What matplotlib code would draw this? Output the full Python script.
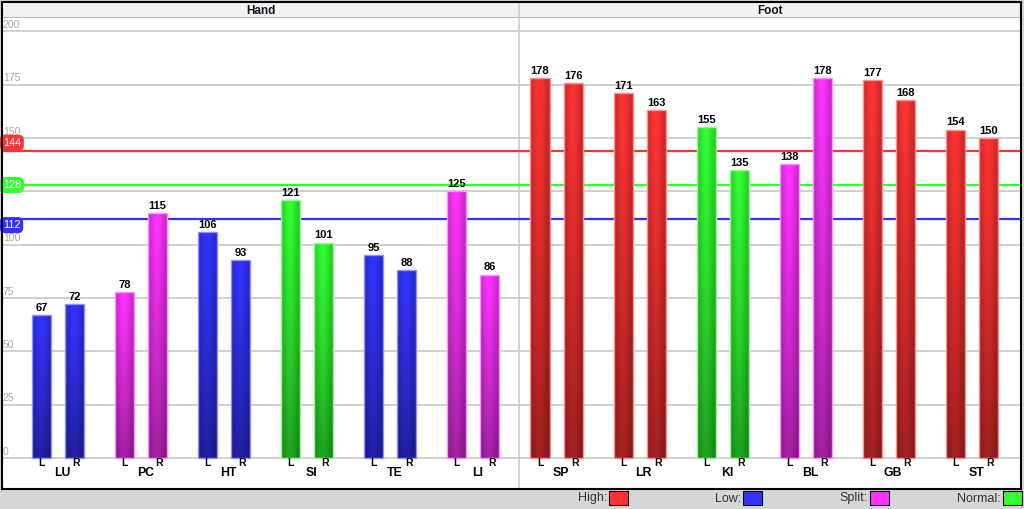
import numpy as np
import matplotlib
matplotlib.use("Agg")
import matplotlib.pyplot as plt
from matplotlib.patches import Rectangle
from matplotlib.colors import to_rgb

plt.rcParams['font.family'] = ['Liberation Sans', 'DejaVu Sans']

# data
meridians = ['LU', 'PC', 'HT', 'SI', 'TE', 'LI', 'SP', 'LR', 'KI', 'BL', 'GB', 'ST']
left_vals = [67, 78, 106, 121, 95, 125, 178, 171, 155, 138, 177, 154]
right_vals = [72, 115, 93, 101, 88, 86, 176, 163, 135, 178, 168, 150]
left_status = ['Low', 'Split', 'Low', 'Normal', 'Low', 'Split',
               'High', 'High', 'Normal', 'Split', 'High', 'High']
right_status = ['Low', 'Split', 'Low', 'Normal', 'Low', 'Split',
                'High', 'High', 'Normal', 'Split', 'High', 'High']
sections = ['Hand', 'Foot']
thresholds = [144, 128, 112]
threshold_status = ['High', 'Normal', 'Low']
legend_order = ['High', 'Low', 'Split', 'Normal']

colors = {'High': '#ff3333', 'Low': '#3333ff', 'Split': '#ff33ff', 'Normal': '#33ff33'}

W, H = 1024, 509
fig = plt.figure(figsize=(W / 100, H / 100), dpi=100)
fig.patch.set_facecolor('#d6d6d6')

def fx(px):
    return px / W

def fy(py):
    return 1 - py / H

# main plot area (pixels: x 2..1021, y 18..489)
ax = fig.add_axes([fx(2), fy(489), fx(1021) - fx(2), fy(18) - fy(489)])
ax.set_facecolor('white')
for s in ax.spines.values():
    s.set_visible(False)
ax.set_xticks([])
ax.set_yticks([])

xmin, xmax = -0.674, 11.59
ymin, ymax = -14.54, 206.3

# grid + y labels
for t in np.arange(0, 201, 25):
    ax.axhline(t, color='#c8c8c8', lw=1.2, zorder=1)
    ax.text(xmin + 0.01, t + 0.6, str(t), color='#a8a8a8', fontsize=7.5,
            ha='left', va='bottom', zorder=2)

# threshold lines
label_dy = [3.8, 0.0, -2.8]
for val, st, dy in zip(thresholds, threshold_status, label_dy):
    ax.axhline(val, color=colors[st], lw=1.6, zorder=3)
    ax.text(xmin + 0.008, val + dy, str(val), color='white', fontsize=7.8,
            ha='left', va='center', zorder=6,
            bbox=dict(boxstyle='round,pad=0.28,rounding_size=0.5',
                      fc=colors[st], ec='none'))

# divider between Hand and Foot
split_x = 5.55
ax.axvline(split_x, color='#cccccc', lw=1.2, zorder=1)

x = np.arange(len(meridians))
off = 0.199
bw = 0.229


def shade_bar(patch, base):
    rgb = np.array(to_rgb(base))
    cols = np.linspace(0, 1, 24)
    rows = np.linspace(0, 1, 80)
    h = 0.8 + 0.2 * np.cos((cols - 0.45) * np.pi * 0.95) ** 2
    v = 1.0 - 0.36 * rows ** 1.2
    img = rgb[None, None, :] * v[:, None, None] * h[None, :, None]
    x0, y0 = patch.get_x(), patch.get_y()
    im = ax.imshow(np.clip(img, 0, 1),
                   extent=[x0, x0 + patch.get_width(), y0, y0 + patch.get_height()],
                   aspect='auto', origin='upper', zorder=4, interpolation='bilinear')
    im.set_clip_path(patch)


for vals, stat, sgn, side in [(left_vals, left_status, -1, 'L'), (right_vals, right_status, 1, 'R')]:
    bars = ax.bar(x + sgn * off, vals, width=bw,
                  color=[colors[s] for s in stat], zorder=4, lw=0)
    for b, s, v in zip(bars, stat, vals):
        shade_bar(b, colors[s])
        edge = Rectangle((b.get_x(), 0), b.get_width(), v, fill=False,
                         ec=tuple(0.55 * np.array(to_rgb(colors[s])) + 0.45), lw=1.0, zorder=5)
        ax.add_patch(edge)
        ax.annotate(str(v), (b.get_x() + b.get_width() / 2, v), xytext=(0, 1.5),
                    textcoords='offset points', ha='center', va='bottom',
                    fontsize=8, fontweight='bold', color='black', zorder=6)
        ax.text(b.get_x() + b.get_width() / 2 + (0.02 if side == 'R' else 0), -2.4, side,
                ha='center', va='center', fontsize=7.5, fontweight='bold', zorder=6)

for xi, name in zip(x, meridians):
    ax.text(xi + 0.05, -7.1, name, ha='center', va='center', fontsize=8.8,
            fontweight='bold', zorder=6)

ax.set_xlim(xmin, xmax)
ax.set_ylim(ymin, ymax)

# header strip (pixels y 2..18)
hx = fig.add_axes([fx(2), fy(18), fx(1021) - fx(2), fy(2) - fy(18)])
hx.set_facecolor('#f1f1f1')
hx.set_xlim(xmin, xmax)
hx.set_ylim(0, 1)
hx.set_xticks([])
hx.set_yticks([])
for s in hx.spines.values():
    s.set_visible(False)
hx.axhline(0, color='#b8b8b8', lw=1.5)
hx.axvline(split_x, color='#cccccc', lw=1.2)
hx.text((xmin + split_x) / 2, 0.45, sections[0], ha='center', va='center',
        fontsize=8.5, fontweight='bold', color='#111122')
hx.text((split_x + xmax) / 2, 0.45, sections[1], ha='center', va='center',
        fontsize=8.5, fontweight='bold', color='#111122')

# outer border
fig.add_artist(Rectangle((fx(2), fy(489)), fx(1021) - fx(2), fy(2) - fy(489),
                         transform=fig.transFigure, fill=False, ec='black', lw=1.5))

# legend in the bottom band
legend_right = [607, 741, 868, 1001]
for name, px in zip(legend_order, legend_right):
    fig.text(fx(px), fy(498.5), name + ':', ha='right', va='center',
             fontsize=9, color='#333333')
    fig.add_artist(Rectangle((fx(px + 1.5), fy(505)), fx(19), fy(0) - fy(14),
                             transform=fig.transFigure, fc=colors[name], ec='black', lw=0.8))

fig.savefig('out.png', dpi=100, facecolor=fig.get_facecolor())
